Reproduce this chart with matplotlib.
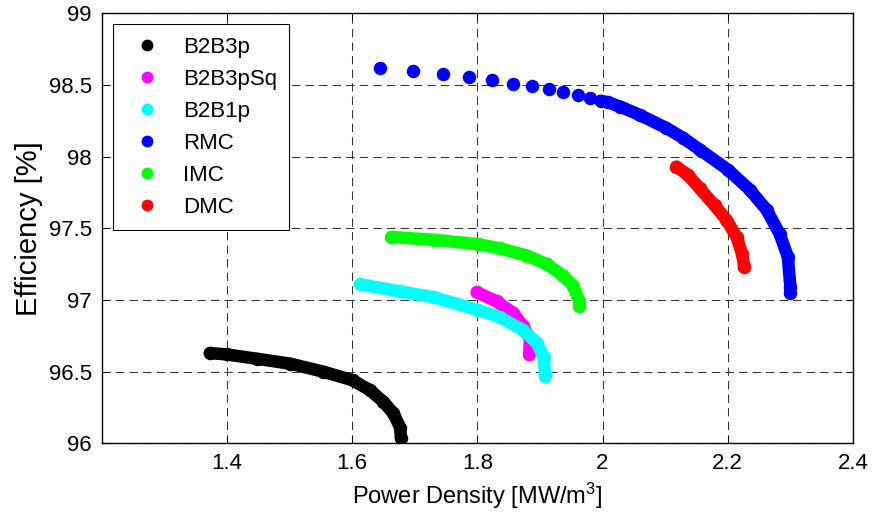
import matplotlib
matplotlib.use("Agg")
import matplotlib.pyplot as plt

plt.rcParams['font.family'] = ['Liberation Sans', 'DejaVu Sans']
plt.rcParams['mathtext.default'] = 'regular'

# ---- data ----
series_names = ["B2B3p", "B2B3pSq", "B2B1p", "RMC", "IMC", "DMC"]
series_colors = ["#000000", "#ff00ff", "#00ffff", "#0000ff", "#00ff00", "#ff0000"]

b2b3p_x = [1.373, 1.400, 1.448, 1.501, 1.554, 1.601, 1.629, 1.650, 1.666, 1.677, 1.678]
b2b3p_y = [96.63, 96.62, 96.59, 96.556, 96.50, 96.44, 96.37, 96.29, 96.21, 96.11, 96.04]

b2b3psq_x = [1.799, 1.831, 1.857, 1.873, 1.884, 1.883]
b2b3psq_y = [97.055, 96.99, 96.91, 96.82, 96.73, 96.62]

b2b1p_x = [1.613, 1.676, 1.730, 1.801, 1.836, 1.873, 1.895, 1.906, 1.908, 1.908]
b2b1p_y = [97.11, 97.06, 97.02, 96.93, 96.88, 96.79, 96.70, 96.60, 96.49, 96.47]

rmc_x = [1.645, 1.698, 1.745, 1.787, 1.824, 1.857, 1.887, 1.914, 1.937, 1.961, 1.980, 1.997,
         2.008, 2.028, 2.060, 2.102, 2.129, 2.155, 2.200, 2.235, 2.262, 2.283, 2.296, 2.300, 2.300]
rmc_y = [98.62, 98.60, 98.58, 98.555, 98.535, 98.51, 98.49, 98.47, 98.45, 98.43, 98.41, 98.39,
         98.38, 98.35, 98.29, 98.20, 98.13, 98.05, 97.91, 97.77, 97.63, 97.46, 97.30, 97.09, 97.05]
rmc_dense_start = 11

imc_x = [1.663, 1.730, 1.801, 1.836, 1.879, 1.911, 1.937, 1.953, 1.963, 1.963]
imc_y = [97.44, 97.42, 97.39, 97.36, 97.31, 97.25, 97.17, 97.10, 96.99, 96.96]

dmc_x = [2.118, 2.137, 2.155, 2.179, 2.198, 2.214, 2.223, 2.226, 2.226]
dmc_y = [97.93, 97.87, 97.78, 97.66, 97.56, 97.44, 97.32, 97.24, 97.23]

x_ticks = [1.4, 1.6, 1.8, 2.0, 2.2, 2.4]
x_tick_labels = ["1.4", "1.6", "1.8", "2", "2.2", "2.4"]
y_ticks = [96, 96.5, 97, 97.5, 98, 98.5, 99]
y_tick_labels = ["96", "96.5", "97", "97.5", "98", "98.5", "99"]

all_x = [b2b3p_x, b2b3psq_x, b2b1p_x, rmc_x, imc_x, dmc_x]
all_y = [b2b3p_y, b2b3psq_y, b2b1p_y, rmc_y, imc_y, dmc_y]

# ---- figure ----
W, H = 872, 515
fig = plt.figure(figsize=(W / 100, H / 100), dpi=100)
L, R, T, B = 101.5, 853.0, 13.4, 443.3
ax = fig.add_axes([L / W, 1 - B / H, (R - L) / W, (B - T) / H])

MS = 8.7
LW = 9.0
for name, col, xs, ys in zip(series_names, series_colors, all_x, all_y):
    if name == "RMC":
        ax.plot(xs[rmc_dense_start:], ys[rmc_dense_start:], '-', color=col, lw=LW,
                solid_capstyle='round', solid_joinstyle='round', zorder=3)
    else:
        ax.plot(xs, ys, '-', color=col, lw=LW, solid_capstyle='round',
                solid_joinstyle='round', zorder=3)
    ax.plot(xs, ys, 'o', color=col, ms=MS, mec=col, label=name, zorder=3)

ax.set_xlim(1.2, 2.4)
ax.set_ylim(96, 99)
ax.set_xticks(x_ticks)
ax.set_xticklabels(x_tick_labels)
ax.set_yticks(y_ticks)
ax.set_yticklabels(y_tick_labels)

ax.grid(True, color='#333333', linestyle=(0, (8, 5)), linewidth=0.75)
ax.set_axisbelow(True)

ax.tick_params(direction='in', length=5, width=0.75, top=True, right=True,
               labelsize=16, pad=7, colors='black')
for s in ax.spines.values():
    s.set_linewidth(1.0)
    s.set_color('black')

ax.set_xlabel(r'Power Density [MW/m$^3$]', fontsize=17, labelpad=5)
ax.set_ylabel('Efficiency [%]', fontsize=21, labelpad=4)

leg = ax.legend(loc='upper left', bbox_to_anchor=(0.0149, 0.9746), borderaxespad=0,
                fontsize=16, numpoints=1, handlelength=2.0, borderpad=0.55,
                handletextpad=0.6, labelspacing=0.5, fancybox=False, framealpha=1,
                edgecolor='black')
leg.get_frame().set_linewidth(0.75)
for h in leg.legend_handles:
    h.set_markersize(7.5)

fig.savefig("out.png", dpi=100)
